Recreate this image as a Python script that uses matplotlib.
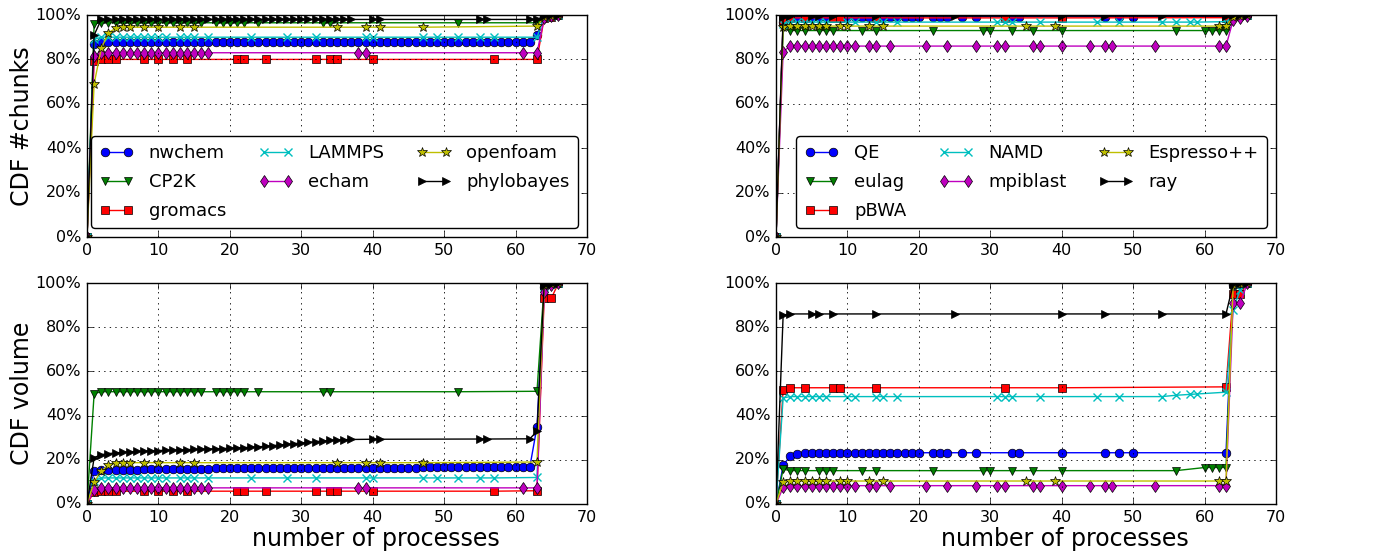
import matplotlib
matplotlib.use("Agg")
import matplotlib.pyplot as plt
from matplotlib.ticker import PercentFormatter

plt.style.use("classic")
plt.rcParams['font.family'] = ['DejaVu Sans']

# ---- left column apps: x = number of processes, y = cumulative % ----
nwchem_x = [0, 1, 2, 3, 4, 5, 6, 7, 8, 9, 10, 11, 12, 13, 14, 15, 16, 17, 18, 19, 20,
            21, 22, 23, 24, 25, 26, 27, 28, 29, 30, 31, 32, 33, 34, 35, 36, 37, 38, 39, 40,
            41, 42, 43, 44, 45, 46, 47, 48, 49, 50, 51, 52, 53, 54, 55, 56, 57, 58, 59, 60,
            61, 62, 63, 64, 65, 66]
nwchem_chunks = [0, 87, 88, 88, 88, 88, 88, 88, 88, 88, 88, 88, 88, 88, 88, 88, 88, 88, 88, 88, 88,
                 88, 88, 88, 88, 88, 88, 88, 88, 88, 88, 88, 88, 88, 88, 88, 88, 88, 88, 88, 88,
                 88, 88, 88, 88, 88, 88, 88, 88, 88, 88, 88, 88, 88, 88, 88, 88, 88, 88, 88, 88,
                 88, 88, 91, 99, 99.6, 100]
nwchem_volume = [0, 15.0, 15.3, 15.4, 15.5, 15.5, 15.6, 15.6, 15.7, 15.7, 15.8, 15.8,
                 15.9, 15.9, 15.9, 16.0, 16.0, 16.0, 16.1, 16.1, 16.1, 16.1,
                 16.2, 16.2, 16.2, 16.2, 16.2, 16.2, 16.2, 16.2, 16.2, 16.2,
                 16.3, 16.3, 16.3, 16.3, 16.3, 16.4, 16.4, 16.4, 16.4, 16.4,
                 16.5, 16.5, 16.5, 16.5, 16.5, 16.6, 16.6, 16.6, 16.6, 16.6,
                 16.6, 16.6, 16.7, 16.7, 16.7, 16.7, 16.7, 16.8, 16.8, 16.8, 16.8,
                 35, 98, 99.5, 100]

cp2k_x = [0, 1, 2, 3, 4, 5, 6, 7, 8, 9, 10, 11, 12, 13, 14, 15, 16, 18, 19, 20, 21, 22,
          24, 33, 34, 52, 63, 64, 65, 66]
cp2k_chunks = [0, 96, 96.5, 96.5, 96.5, 96.5, 96.5, 96.5, 96.5, 96.5, 96.5, 96.5, 96.5, 96.5,
               96.5, 96.5, 96.5, 96.5, 96.5, 96.5, 96.5, 96.5, 96.5, 96.5, 96.5, 96.5, 96.5,
               99, 99.7, 100]
cp2k_volume = [0, 50, 50.8, 50.8, 50.8, 50.8, 50.8, 50.8, 50.8, 50.8, 50.8, 50.8, 50.8, 50.8,
               50.8, 50.8, 50.8, 50.8, 50.8, 50.8, 50.8, 50.8, 50.8, 50.8, 50.8, 50.8, 51,
               99, 99.6, 100]

gromacs_x = [0, 1, 2, 3, 4, 8, 10, 12, 14, 21, 22, 25, 32, 34, 35, 40, 57, 63, 64, 65, 66]
gromacs_chunks = [0, 79.5, 80, 80, 80, 80, 80, 80, 80, 80, 80, 80, 80, 80, 80, 80, 80, 80,
                  98.5, 99, 100]
gromacs_volume = [0, 5.5, 5.8, 5.8, 5.8, 5.8, 5.8, 5.8, 5.8, 5.8, 5.8, 5.8, 5.8, 5.8, 5.8,
                  5.8, 5.8, 6.0, 93, 93, 100]

lammps_x = [0, 1, 2, 3, 4, 5, 6, 7, 8, 9, 10, 11, 13, 14, 15, 17, 23, 28, 32, 39, 40,
            47, 49, 52, 55, 57, 63, 64, 65, 66]
lammps_chunks = [0, 89, 90, 90, 90, 90, 90, 90, 90, 90, 90, 90, 90, 90, 90, 90, 90, 90, 90,
                 90, 90, 90, 90, 90, 90, 90, 90, 99.2, 99.7, 100]
lammps_volume = [0, 10.5, 11.8, 11.8, 11.8, 11.8, 11.8, 11.8, 11.8, 11.8, 11.8, 11.8, 11.8,
                 11.8, 11.8, 11.8, 11.8, 11.8, 11.8, 11.8, 11.8, 11.8, 11.8, 11.8, 11.8, 11.8,
                 12.0, 98, 99.5, 100]

echam_x = [0, 1, 2, 3, 4, 5, 6, 7, 8, 9, 10, 11, 12, 13, 14, 15, 16, 17, 38, 39, 61, 63,
           64, 65, 66]
echam_chunks = [0, 81.5, 83, 83, 83, 83, 83, 83, 83, 83, 83, 83, 83, 83, 83, 83, 83, 83, 83,
                83, 83, 83, 98.5, 99.5, 100]
echam_volume = [0, 6.5, 7.3, 7.3, 7.3, 7.3, 7.3, 7.3, 7.3, 7.3, 7.3, 7.3, 7.3, 7.3, 7.3, 7.3,
                7.3, 7.3, 7.3, 7.3, 7.3, 7.3, 96, 99, 100]

openfoam_x = [0, 1, 2, 3, 4, 5, 6, 8, 10, 13, 15, 35, 39, 41, 47, 63, 64, 65, 66]
openfoam_chunks = [0, 69, 85, 92, 94, 94.5, 94.5, 94.5, 94.5, 94.5, 94.5, 94.5, 94.5, 94.5,
                   94.5, 95, 99, 99.6, 100]
openfoam_volume = [0, 10, 15, 17.5, 18.5, 18.7, 18.7, 18.7, 18.7, 18.7, 18.7, 18.7, 18.7,
                   18.7, 18.7, 19, 99, 99.6, 100]

phylobayes_x = [0, 1, 2, 3, 4, 5, 6, 7, 8, 9, 10, 11, 12, 13, 14, 15, 16, 17, 18, 19, 20,
                21, 22, 23, 24, 25, 26, 27, 28, 29, 30, 31, 32, 33, 34, 35, 36, 37,
                40, 41, 55, 56, 62, 63, 64, 65, 66]
phylobayes_chunks = [0, 91, 98, 98, 98, 98, 98, 98, 98, 98, 98, 98, 98, 98, 98, 98, 98, 98,
                     98, 98, 98, 98, 98, 98, 98, 98, 98, 98, 98, 98, 98, 98, 98, 98, 98, 98,
                     98, 98, 98, 98, 98, 98, 98, 98, 99.5, 99.8, 100]
phylobayes_volume = [0, 21, 22.3, 22.8, 23.1, 23.4, 23.6, 23.8, 23.9, 24.1, 24.2, 24.3, 24.4,
                     24.5, 24.6, 24.7, 24.8, 24.9, 25.0, 25.1, 25.2, 25.4, 25.5, 25.7, 25.9,
                     26.1, 26.4, 26.7, 27.0, 27.3, 27.6, 27.9, 28.2, 28.5, 28.8, 29.0, 29.1,
                     29.2, 29.3, 29.3, 29.4, 29.4, 29.5, 33, 99, 99.7, 100]

# ---- right column apps ----
qe_x = [0, 1, 2, 3, 4, 5, 6, 7, 8, 9, 10, 11, 12, 13, 14, 15, 16, 17, 18, 19, 20,
        22, 23, 24, 26, 28, 33, 34, 40, 46, 48, 50, 63, 64, 65, 66]
qe_chunks = [0, 97, 99.3, 99.3, 99.3, 99.3, 99.3, 99.3, 99.3, 99.3, 99.3, 99.3, 99.3, 99.3,
             99.3, 99.3, 99.3, 99.3, 99.3, 99.3, 99.3, 99.3, 99.3, 99.3, 99.3, 99.3, 99.3,
             99.3, 99.3, 99.3, 99.3, 99.3, 99.3, 99.8, 99.9, 100]
qe_volume = [0, 17.5, 21.8, 22.7, 23.2, 23.2, 23.2, 23.2, 23.2, 23.2, 23.2, 23.2, 23.2, 23.2,
             23.2, 23.2, 23.2, 23.2, 23.2, 23.2, 23.2, 23.2, 23.2, 23.2, 23.2, 23.2, 23.2,
             23.2, 23.2, 23.2, 23.2, 23.2, 23.2, 99, 99.5, 100]

eulag_x = [0, 1, 2, 3, 4, 6, 7, 8, 12, 14, 22, 29, 30, 33, 36, 40, 56, 60, 61, 62, 63,
           64, 65, 66]
eulag_chunks = [0, 94, 93, 93, 93, 93, 93, 93, 93, 93, 93, 93, 93, 93, 93, 93, 93, 93, 93,
                93, 93, 99, 99.5, 100]
eulag_volume = [0, 15.8, 15.1, 15.1, 15.1, 15.1, 15.1, 15.1, 15.1, 15.1, 15.1, 15.1, 15.1,
                15.1, 15.1, 15.1, 15.1, 16.5, 16.5, 16.5, 16.5, 99, 99.5, 100]

pbwa_x = [0, 1, 2, 4, 8, 9, 14, 32, 40, 63, 64, 65, 66]
pbwa_chunks = [0, 97.8, 98.7, 98.7, 98.7, 98.7, 98.7, 98.7, 98.7, 98.8, 99.5, 99.8, 100]
pbwa_volume = [0, 51.7, 52.6, 52.6, 52.6, 52.6, 52.6, 52.6, 52.6, 53, 95, 95, 100]

namd_x = [0, 1, 2, 3, 4, 5, 6, 7, 10, 11, 14, 15, 17, 31, 32, 33, 37, 45, 48, 54, 56, 58,
          59, 63, 64, 65, 66]
namd_chunks = [0, 96, 96.8, 96.8, 96.8, 96.8, 96.8, 96.8, 96.8, 96.8, 96.8, 96.8, 96.8, 96.8,
               96.8, 96.8, 96.8, 96.8, 96.8, 96.8, 96.8, 96.8, 96.8, 97, 99.5, 99.8, 100]
namd_volume = [0, 48, 48.6, 48.6, 48.6, 48.6, 48.6, 48.6, 48.6, 48.6, 48.6, 48.6, 48.6, 48.6,
               48.6, 48.6, 48.6, 48.6, 48.6, 48.6, 49.2, 49.6, 49.8, 50.6, 88, 97, 100]

mpiblast_x = [0, 1, 2, 3, 4, 5, 6, 7, 8, 9, 10, 11, 13, 14, 16, 21, 24, 28, 31, 32, 36, 37,
              40, 44, 46, 47, 53, 62, 63, 64, 65, 66]
mpiblast_chunks = [0, 83.5, 86, 86, 86, 86, 86, 86, 86, 86, 86, 86, 86, 86, 86, 86, 86, 86,
                   86, 86, 86, 86, 86, 86, 86, 86, 86, 86, 86, 97.7, 98.5, 99.5]
mpiblast_volume = [0, 7.5, 8.3, 8.3, 8.3, 8.3, 8.3, 8.3, 8.3, 8.3, 8.3, 8.3, 8.3, 8.3, 8.3,
                   8.3, 8.3, 8.3, 8.3, 8.3, 8.3, 8.3, 8.3, 8.3, 8.3, 8.3, 8.3, 8.3, 8.3,
                   91, 91, 100]

espresso_x = [0, 1, 2, 3, 4, 5, 6, 7, 9, 10, 13, 15, 35, 39, 62, 63, 64, 65, 66]
espresso_chunks = [0, 94.5, 95, 95, 95, 95, 95, 95, 95, 95, 95, 95, 95, 95, 95, 95,
                   99, 99.6, 100]
espresso_volume = [0, 10, 10.4, 10.4, 10.4, 10.4, 10.4, 10.4, 10.4, 10.4, 10.4, 10.4, 10.4,
                   10.4, 10.4, 10.4, 99, 99.5, 100]

ray_x = [0, 1, 2, 5, 6, 8, 14, 25, 40, 46, 54, 63, 64, 65, 66]
ray_chunks = [0, 99.3, 99.5, 99.5, 99.5, 99.5, 99.5, 99.5, 99.5, 99.5, 99.5, 99.5,
              99.8, 99.9, 100]
ray_volume = [0, 85.5, 86, 86, 86, 86, 86, 86, 86, 86, 86, 86, 99.5, 99.8, 100]

left_names = ["nwchem", "CP2K", "gromacs", "LAMMPS", "echam", "openfoam", "phylobayes"]
left_x = [nwchem_x, cp2k_x, gromacs_x, lammps_x, echam_x, openfoam_x, phylobayes_x]
left_chunks = [nwchem_chunks, cp2k_chunks, gromacs_chunks, lammps_chunks, echam_chunks,
               openfoam_chunks, phylobayes_chunks]
left_volume = [nwchem_volume, cp2k_volume, gromacs_volume, lammps_volume, echam_volume,
               openfoam_volume, phylobayes_volume]

right_names = ["QE", "eulag", "pBWA", "NAMD", "mpiblast", "Espresso++", "ray"]
right_x = [qe_x, eulag_x, pbwa_x, namd_x, mpiblast_x, espresso_x, ray_x]
right_chunks = [qe_chunks, eulag_chunks, pbwa_chunks, namd_chunks, mpiblast_chunks,
                espresso_chunks, ray_chunks]
right_volume = [qe_volume, eulag_volume, pbwa_volume, namd_volume, mpiblast_volume,
                espresso_volume, ray_volume]

styles = [('b', 'o'), ('g', 'v'), ('r', 's'), ('c', 'x'), ('m', 'd'), ('y', '*'), ('k', '>')]

W, H = 1374.0, 554.0
fig = plt.figure(figsize=(13.74, 5.54), dpi=100)
fig.patch.set_facecolor('white')


def box(x0, x1, y0, y1):
    return [x0 / W, 1 - y1 / H, (x1 - x0) / W, (y1 - y0) / H]


ax_tl = fig.add_axes(box(87, 587, 15, 237))
ax_tr = fig.add_axes(box(776, 1276, 15, 237))
ax_bl = fig.add_axes(box(87, 587, 283, 504))
ax_br = fig.add_axes(box(776, 1276, 283, 504))


def draw(ax, names, xs, ys, legend=False):
    for name, x, y, (c, m) in zip(names, xs, ys, styles):
        ms = 7.5 if m == '*' else 6.2
        kw = dict(mec=c, mew=1.0) if m == 'x' else dict(mec='k', mew=0.5)
        ax.plot(x, y, color=c, marker=m, ms=ms, lw=1.0, label=name, **kw)
    ax.set_xlim(0, 70)
    ax.set_ylim(0, 100)
    ax.set_xticks([0, 10, 20, 30, 40, 50, 60, 70])
    ax.set_yticks([0, 20, 40, 60, 80, 100])
    ax.yaxis.set_major_formatter(PercentFormatter(decimals=0))
    ax.tick_params(labelsize=11.5, direction='in', top=True, right=True)
    ax.grid(True, color='k', linestyle=':', linewidth=0.6)
    if legend:
        ax.legend(loc='lower right', ncol=3, fontsize=13, numpoints=2, fancybox=True,
                  handlelength=1.9, columnspacing=1.8, handletextpad=0.85,
                  borderpad=0.45, labelspacing=0.6, borderaxespad=0.5)


draw(ax_tl, left_names, left_x, left_chunks, legend=True)
draw(ax_tr, right_names, right_x, right_chunks, legend=True)
draw(ax_bl, left_names, left_x, left_volume)
draw(ax_br, right_names, right_x, right_volume)

ax_tl.set_ylabel("CDF #chunks", fontsize=17, labelpad=1)
ax_bl.set_ylabel("CDF volume", fontsize=17, labelpad=1)
for ax in (ax_bl, ax_br):
    ax.set_xlabel("number of processes", fontsize=17, labelpad=2)
    ax.xaxis.label.set_x(0.577)

fig.savefig("out.png", dpi=100, facecolor='white')
